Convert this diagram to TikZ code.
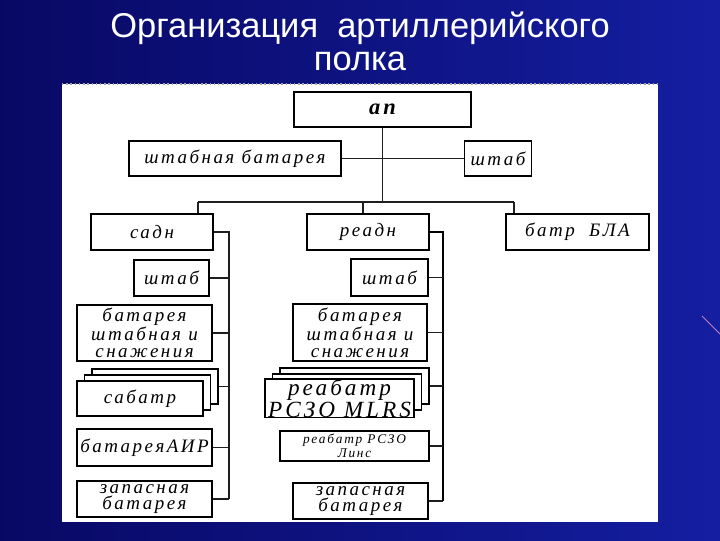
\documentclass[tikz,border=0pt]{standalone}
\usepackage{fontspec}
\newfontfamily\boxfont[LetterSpace=13]{Liberation Serif}
\newfontfamily\titlefont{Liberation Sans}
\definecolor{fon}{RGB}{8,8,100}
\definecolor{fonhell}{RGB}{20,30,160}
\definecolor{linie}{RGB}{30,30,30}
\begin{document}
\begin{tikzpicture}[
      x=0.025cm, y=-0.025cm,
      box/.style={draw, fill=white, line width=1.1pt, inner sep=0pt, align=center,
        minimum height=0.875cm, font=\boxfont\itshape\fontsize{13.5}{12}\selectfont},
      titel/.style={text=white, anchor=base, inner sep=0pt, font=\titlefont\fontsize{24.5}{21}\selectfont},
      verb/.style={draw=linie, line width=1.4pt}
    ]
      \useasboundingbox (0,0) rectangle (720,540);
      \shade[left color=fon, right color=fonhell] (0,0) rectangle (720,540);
      \draw[violet!50!white, line width=0.6pt] (702,316) -- (720,334);
      \fill[white] (62,84) rectangle (658,522);
      \draw[gray!70, dotted, line width=1pt] (62,84) -- (658,84);
      \node[titel] (titel1) at (360,37) {Организация~ артиллерийского};
      \node[titel] (titel2) at (360,70) {полка};

      \node[box, minimum width=4.425cm, font=\boxfont\bfseries\itshape\fontsize{16}{16}\selectfont] (ap) at (382.5,109.5) {ап};
      \node[box, minimum width=5.3cm] (shbat) at (235,158.5) {штабная батарея};
      \node[box, minimum width=1.675cm] (shtab) at (498,158.5) {штаб};
      \node[box, minimum width=3.05cm, minimum height=0.9cm] (sadn) at (152,232) {садн};
      \node[box, minimum width=3.05cm, minimum height=0.9cm] (readn) at (368,232) {реадн};
      \node[box, minimum width=3.575cm, minimum height=0.9cm] (bla) at (577.5,232) {батр~ БЛА};

      \node[box, minimum width=1.875cm, minimum height=0.9cm] (lshtab) at (171.5,278) {штаб};
      \node[box, minimum width=3.375cm, minimum height=1.4cm] (lbat) at (144.5,333) {батарея\\штабная и\\снажения};
      \node[box, minimum width=3.15cm] (sab3) at (155,386.5) {};
      \node[box, minimum width=3.15cm] (sab2) at (147.5,392.5) {};
      \node[box, minimum width=3.15cm] (sab) at (140,398.5) {сабатр};
      \node[box, minimum width=3.375cm, minimum height=0.925cm] (lair) at (144.5,447.5) {батареяАИР};
      \node[box, minimum width=3.375cm, minimum height=0.9cm] (lzap) at (144.5,499) {запасная\\батарея};

      \node[box, minimum width=1.925cm, minimum height=0.925cm] (rshtab) at (389.5,277.5) {штаб};
      \node[box, minimum width=3.35cm, minimum height=1.425cm] (rbat) at (360,332.5) {батарея\\штабная и\\снажения};
      \node[box, minimum width=3.725cm, minimum height=0.9cm] (rea3) at (354.5,386) {};
      \node[box, minimum width=3.725cm, minimum height=0.9cm] (rea2) at (347,392) {};
      \node[box, minimum width=3.725cm, minimum height=0.9cm, font=\boxfont\itshape\fontsize{16.5}{12.5}\selectfont] (rea) at (339.5,398) {реабатр\\РСЗО MLRS};
      \node[box, minimum width=3.725cm, minimum height=0.75cm, font=\boxfont\itshape\fontsize{9.5}{10}\selectfont] (rlins) at (354.5,446) {реабатр РСЗО\\Линс};
      \node[box, minimum width=3.375cm, minimum height=0.9cm] (rzap) at (360.5,501) {запасная\\батарея};

      \coordinate (bus) at (382.5,202);
      \coordinate (d1) at (198,202);
      \coordinate (d2) at (363,202);
      \coordinate (d3) at (514,202);
      \coordinate (lv) at (229,499);
      \coordinate (rv) at (443,501);

      \draw[verb] (ap) -- (bus);
      \draw[verb] (shbat) -- (shtab);
      \draw[verb] (d1) -- (d3);
      \draw[verb] (d1) -- (d1 |- sadn.north);
      \draw[verb] (d2) -- (d2 |- readn.north);
      \draw[verb] (d3) -- (d3 |- bla.north);

      \draw[verb] (sadn.east) -| (lv);
      \foreach \n in {lshtab, lbat, sab3, lair, lzap}
        \draw[verb] (\n.east) -- (\n.east -| lv);
      \draw[verb, draw=black, line width=2pt] (readn.east) -| (rv);
      \foreach \n in {rshtab, rbat, rea3, rlins, rzap}
        \draw[verb] (\n.east) -- (\n.east -| rv);
    \end{tikzpicture}
\end{document}
